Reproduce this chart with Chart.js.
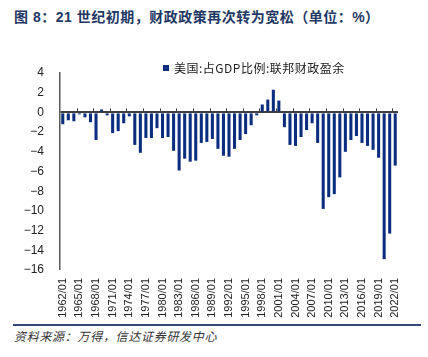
<!DOCTYPE html>
<html>
<head>
<meta charset="utf-8">
<script src="https://cdn.jsdelivr.net/npm/chart.js@4.4.0/dist/chart.umd.min.js"></script>
<style>
  html,body{margin:0;padding:0;background:#fff;}
  body{width:428px;height:357px;position:relative;overflow:hidden;font-family:"Liberation Sans","Noto Sans CJK SC",sans-serif;}
  #title{position:absolute;left:14px;top:8px;font:bold 14px "Liberation Sans","Noto Sans CJK SC",sans-serif;color:#1f3864;white-space:nowrap;line-height:18px;letter-spacing:0.5px;}
  #wrap{position:absolute;left:0;top:0;width:428px;height:322px;}
  #legend{position:absolute;left:163px;top:60px;font:12px "Noto Sans CJK SC",sans-serif;color:#222;white-space:nowrap;line-height:16px;letter-spacing:0.5px;}
  #legend .box{display:inline-block;width:6px;height:6px;background:#0b2d7f;margin-right:5px;vertical-align:2px;}
  #rule{position:absolute;left:13px;top:324px;width:408px;height:2px;background:#34497a;}
  #source{position:absolute;left:14px;top:328px;font:italic 12px "Noto Sans CJK SC",sans-serif;color:#333;white-space:nowrap;line-height:16px;letter-spacing:0.7px;}
</style>
</head>
<body>
<div id="title">图 8：21 世纪初期，财政政策再次转为宽松（单位：%）</div>
<div id="wrap"><canvas id="c"></canvas></div>
<div id="legend"></div>
<div id="rule"></div>
<div id="source">资料来源：万得，信达证券研发中心</div>
<script>
// ---- data ----
const years = [1962,1963,1964,1965,1966,1967,1968,1969,1970,1971,1972,1973,1974,1975,1976,1977,1978,1979,1980,1981,1982,1983,1984,1985,1986,1987,1988,1989,1990,1991,1992,1993,1994,1995,1996,1997,1998,1999,2000,2001,2002,2003,2004,2005,2006,2007,2008,2009,2010,2011,2012,2013,2014,2015,2016,2017,2018,2019,2020,2021,2022];
const categories = years.map(y => y + '/01');
const seriesName = '美国:占GDP比例:联邦财政盈余';
const surplusPctGDP = [-1.2,-0.8,-0.9,-0.2,-0.5,-1.0,-2.8,0.3,-0.3,-2.1,-1.9,-1.1,-0.4,-3.3,-4.1,-2.6,-2.6,-1.6,-2.6,-2.5,-3.9,-5.9,-4.7,-5.0,-4.9,-3.1,-3.0,-2.7,-3.7,-4.4,-4.5,-3.7,-2.8,-2.2,-1.3,-0.3,0.8,1.3,2.3,1.2,-1.5,-3.3,-3.4,-2.5,-1.8,-1.1,-3.1,-9.8,-8.6,-8.3,-6.6,-4.0,-2.8,-2.4,-3.1,-3.4,-3.8,-4.6,-14.9,-12.3,-5.4];
const yTicks = [4,2,0,-2,-4,-6,-8,-10,-12,-14,-16];
const labelEvery = 3;

const barColor = '#0b2d7f';
document.getElementById('legend').innerHTML = '<span class="box"></span>' + seriesName;

const boundaryTicks = {
  id: 'boundaryTicks',
  afterDatasetsDraw(chart) {
    const x = chart.scales.x, y = chart.scales.y;
    const ctx = chart.ctx;
    const y0 = y.getPixelForValue(0);
    const half = (x.getPixelForValue(1) - x.getPixelForValue(0)) / 2;
    ctx.save();
    ctx.strokeStyle = '#404040';
    ctx.lineWidth = 1;
    for (let i = labelEvery; i < categories.length; i += labelEvery) {
      const px = Math.round(x.getPixelForValue(i) - half) + 0.5;
      ctx.beginPath();
      ctx.moveTo(px, y0);
      ctx.lineTo(px, y0 - 4);
      ctx.stroke();
    }
    ctx.restore();
  }
};

new Chart(document.getElementById('c'), {
  type: 'bar',
  data: {
    labels: categories,
    datasets: [{
      label: seriesName,
      data: surplusPctGDP,
      backgroundColor: barColor,
      borderWidth: 0,
      barPercentage: 0.55,
      categoryPercentage: 1.0
    }]
  },
  options: {
    responsive: true,
    maintainAspectRatio: false,
    animation: false,
    layout: { padding: { left: 0, right: 30, top: 73, bottom: 0 } },
    plugins: { legend: { display: false }, tooltip: { enabled: false } },
    scales: {
      x: {
        position: 'bottom',
        offset: true,
        grid: { display: false, drawTicks: false },
        border: { display: false },
        afterFit(s) { s.height = 52; },
        ticks: {
          autoSkip: false,
          minRotation: 90,
          maxRotation: 90,
          padding: 8,
          color: '#222',
          font: { family: '"Liberation Sans", Arial, sans-serif', size: 11 },
          callback(v, i) { return i % labelEvery === 0 ? categories[i] : ''; }
        }
      },
      y: {
        min: -16,
        max: 4,
        afterFit(s) { s.width = 60; },
        afterBuildTicks(s) { s.ticks = yTicks.map(v => ({ value: v })); },
        border: { display: true, color: '#595959', width: 1.5 },
        grid: {
          drawTicks: false,
          color: ctx => ctx.tick && ctx.tick.value === 0 ? '#404040' : 'rgba(0,0,0,0)',
          lineWidth: ctx => ctx.tick && ctx.tick.value === 0 ? 2 : 0
        },
        ticks: {
          padding: 16,
          color: '#222',
          font: { family: '"Liberation Sans", Arial, sans-serif', size: 12 },
          callback(v) { return v < 0 ? '\u2212' + Math.abs(v) : String(v); }
        }
      }
    }
  },
  plugins: [boundaryTicks]
});
</script>
</body>
</html>
